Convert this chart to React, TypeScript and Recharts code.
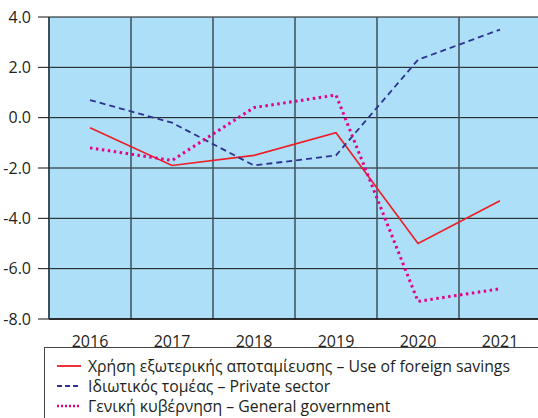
import React from 'react';
import { LineChart, Line, XAxis, YAxis, CartesianGrid, Legend } from 'recharts';

const years = ['2016', '2017', '2018', '2019', '2020', '2021'];
const foreignSavings = [-0.4, -1.9, -1.5, -0.6, -5.0, -3.3];
const privateSector = [0.7, -0.2, -1.9, -1.5, 2.3, 3.5];
const generalGov = [-1.2, -1.7, 0.4, 0.9, -7.3, -6.8];
const yTicks = [-8, -6, -4, -2, 0, 2, 4];

const seriesInfo = [
  { key: 'foreign', name: 'Χρήση εξωτερικής αποταμίευσης – Use of foreign savings', color: '#ee1c25', dash: undefined as string | undefined, width: 1.6 },
  { key: 'private', name: 'Ιδιωτικός τομέας – Private sector', color: '#2e3192', dash: '6 4', width: 1.8 },
  { key: 'gov', name: 'Γενική κυβέρνηση – General government', color: '#e5008a', dash: '2.5 3.5', width: 3 },
];

const data = years.map((year, i) => ({
  year,
  foreign: foreignSavings[i],
  private: privateSector[i],
  gov: generalGov[i],
}));

const FONT = '"Open Sans", "DejaVu Sans", sans-serif';

const LegendBox = () => (
  <div
    style={{
      border: '1px solid #444',
      width: 520,
      height: 90,
      boxSizing: 'border-box',
      paddingTop: 8,
      paddingLeft: 12,
      fontFamily: FONT,
      fontSize: 15.8,
      color: '#231f20',
      background: '#fff',
    }}
  >
    {seriesInfo.map((s) => (
      <div key={s.key} style={{ display: 'flex', alignItems: 'center', height: 20, whiteSpace: 'nowrap' }}>
        <svg width={31} height={10}>
          <line
            x1={0}
            y1={5}
            x2={24}
            y2={5}
            stroke={s.color}
            strokeWidth={s.key === 'gov' ? 2.5 : 1.8}
            strokeDasharray={s.key === 'gov' ? '2 2' : s.dash ? '5 3' : undefined}
          />
        </svg>
        <span>{s.name}</span>
      </div>
    ))}
  </div>
);

export default function App() {
  return (
    <div style={{ position: 'absolute', left: 0, top: 0, width: 538, height: 418, overflow: 'hidden', background: '#fff' }}>
      <LineChart width={560} height={418} data={data} margin={{ top: 17, right: 19, bottom: 69, left: 0 }}>
        <CartesianGrid horizontal={true} vertical={false} stroke="#111" strokeWidth={1} fill="#addff8" fillOpacity={1} />
        <CartesianGrid
          horizontal={false}
          vertical={true}
          stroke="#3d4f58"
          strokeOpacity={0.75}
          strokeWidth={2}
          verticalCoordinatesGenerator={({ offset }: any) =>
            years.map((_, i) => offset.left + ((i + 1) * offset.width) / years.length)
          }
        />
        <XAxis
          dataKey="year"
          scale="band"
          tickLine={false}
          axisLine={{ stroke: '#111', strokeWidth: 1.5 }}
          tickMargin={11}
          tick={{ fill: '#231f20', fontSize: 16, fontFamily: FONT }}
        />
        <YAxis
          width={49}
          domain={[-8, 4]}
          ticks={yTicks}
          interval={0}
          tickSize={11}
          tickMargin={7}
          tickFormatter={(v: number) => v.toFixed(1)}
          tickLine={{ stroke: '#111' }}
          axisLine={{ stroke: '#3d4f58', strokeWidth: 2 }}
          tick={{ fill: '#231f20', fontSize: 16, fontFamily: FONT }}
        />
        <Legend
          layout="horizontal"
          verticalAlign="middle"
          align="center"
          content={<LegendBox />}
          wrapperStyle={{ position: 'absolute', left: 44, top: 347, width: 520, height: 90 }}
        />
        {seriesInfo.map((s) => (
          <Line
            key={s.key}
            type="linear"
            dataKey={s.key}
            name={s.name}
            stroke={s.color}
            strokeWidth={s.width}
            strokeDasharray={s.dash}
            dot={false}
            activeDot={false}
            isAnimationActive={false}
          />
        ))}
      </LineChart>
    </div>
  );
}
